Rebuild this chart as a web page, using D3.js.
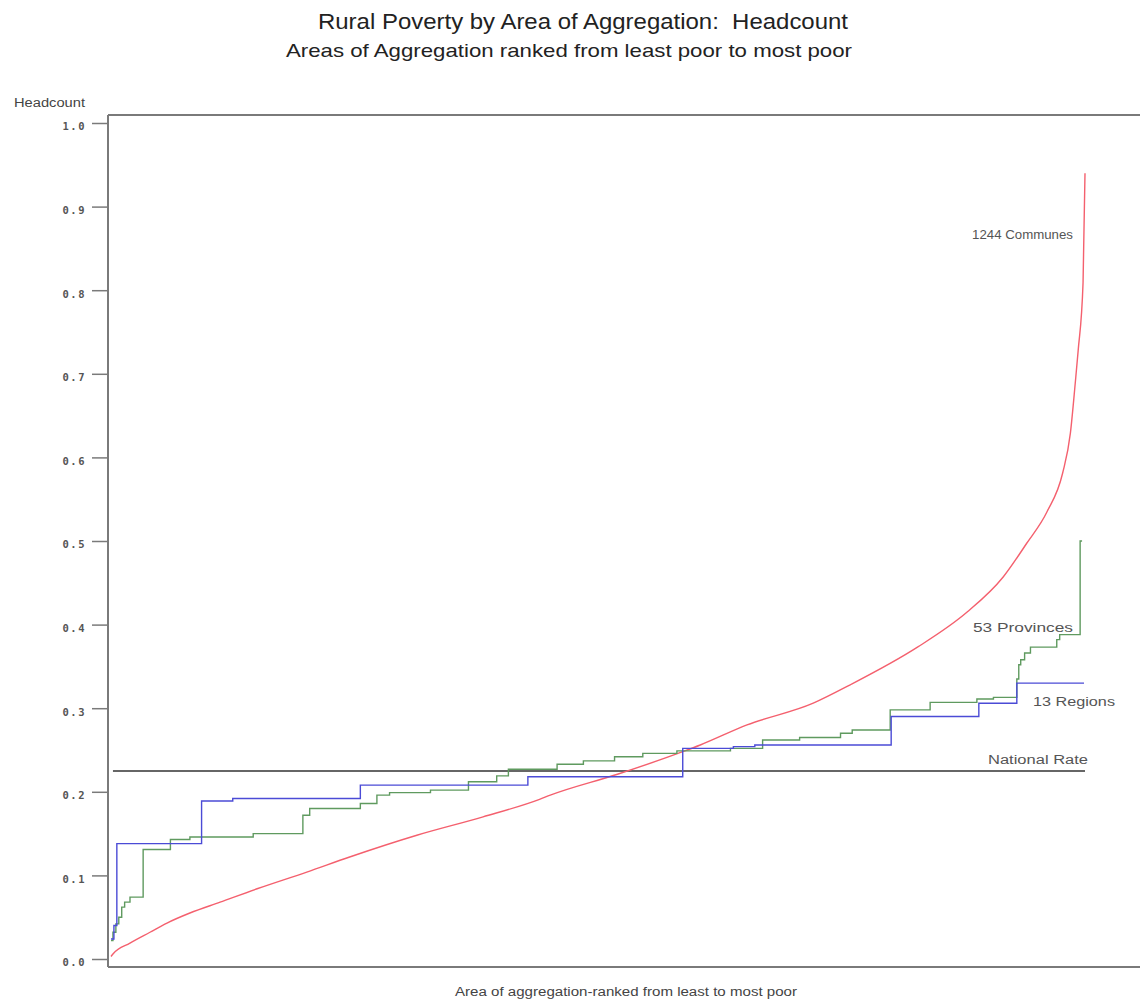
<!DOCTYPE html>
<html>
<head>
<meta charset="utf-8">
<script src="https://cdn.jsdelivr.net/npm/d3@7"></script>
<style>
  html, body { margin: 0; padding: 0; background: #fff; }
  svg { display: block; }
  text { white-space: pre; }
</style>
</head>
<body>
<svg id="chart" width="1140" height="1005"></svg>
<script>
// Areas ranked from least poor to most poor; position = cumulative share of ranked areas.
// 1244 communes (sampled along the ranked curve)
const communeShare = [0, 0.002, 0.0195, 0.040, 0.0575, 0.081, 0.112, 0.150, 0.201, 0.245,
  0.314, 0.382, 0.440, 0.451, 0.520, 0.587, 0.605, 0.653, 0.721, 0.759,
  0.828, 0.879, 0.916, 0.940, 0.961, 0.977, 0.985, 0.990, 0.993, 0.998, 1.0];
const communeHeadcount = [0.003, 0.006, 0.019, 0.032, 0.043, 0.055, 0.068, 0.084, 0.104, 0.122,
  0.148, 0.170, 0.191, 0.196, 0.221, 0.248, 0.256, 0.280, 0.306, 0.328,
  0.373, 0.415, 0.457, 0.497, 0.535, 0.581, 0.629, 0.689, 0.728, 0.809, 0.940];

// 53 provinces: cumulative share at the end of each step, and its headcount
const provinceShareEnd = [0.002, 0.005, 0.008, 0.011, 0.014, 0.0195, 0.033, 0.061, 0.081, 0.146,
  0.197, 0.204, 0.256, 0.273, 0.286, 0.328, 0.367, 0.396, 0.408, 0.458,
  0.485, 0.517, 0.546, 0.581, 0.636, 0.669, 0.707, 0.749, 0.761, 0.800,
  0.841, 0.889, 0.906, 0.930, 0.932, 0.934, 0.938, 0.944, 0.971, 0.974,
  0.995, 0.997];
const provinceHeadcount = [0.022, 0.032, 0.042, 0.050, 0.062, 0.068, 0.074, 0.131, 0.143, 0.146,
  0.150, 0.172, 0.180, 0.186, 0.196, 0.199, 0.202, 0.212, 0.219, 0.227,
  0.233, 0.237, 0.242, 0.246, 0.249, 0.252, 0.262, 0.265, 0.270, 0.274,
  0.298, 0.307, 0.311, 0.313, 0.335, 0.352, 0.358, 0.366, 0.373, 0.382,
  0.388, 0.500];

// 13 regions
const regionShareEnd = [0.003, 0.006, 0.093, 0.125, 0.256, 0.428, 0.587, 0.639, 0.661, 0.801, 0.891, 0.930, 0.999];
const regionHeadcount = [0.024, 0.040, 0.138, 0.189, 0.192, 0.208, 0.218, 0.252, 0.254, 0.256, 0.290, 0.306, 0.330];

const nationalRate = 0.225;
const yTicks = [0, 0.1, 0.2, 0.3, 0.4, 0.5, 0.6, 0.7, 0.8, 0.9, 1.0];

const svg = d3.select("#chart");
const x = d3.scaleLinear().domain([0, 1]).range([111, 1085]);
const y = d3.scaleLinear().domain([0, 1]).range([959, 123]);

const sans = "Liberation Sans, Arial, sans-serif";

// Titles
svg.append("text")
  .attr("x", 583).attr("y", 29)
  .attr("text-anchor", "middle")
  .attr("font-family", sans)
  .attr("font-size", 22)
  .attr("fill", "#222")
  .attr("textLength", 530).attr("lengthAdjust", "spacingAndGlyphs")
  .text("Rural Poverty by Area of Aggregation:  Headcount");
svg.append("text")
  .attr("x", 569).attr("y", 57)
  .attr("text-anchor", "middle")
  .attr("font-family", sans)
  .attr("font-size", 19)
  .attr("fill", "#222")
  .attr("textLength", 566).attr("lengthAdjust", "spacingAndGlyphs")
  .text("Areas of Aggregation ranked from least poor to most poor");

// Frame
const frame = svg.append("g").attr("stroke", "#7a7a7a").attr("stroke-width", 2).attr("fill", "none");
frame.append("line").attr("x1", 108).attr("x2", 1140).attr("y1", 115).attr("y2", 115);
frame.append("line").attr("x1", 108).attr("x2", 1140).attr("y1", 967).attr("y2", 967);
frame.append("line").attr("x1", 108).attr("x2", 108).attr("y1", 115).attr("y2", 967);

// Y axis
const yAxis = svg.append("g")
  .attr("transform", "translate(108,0)")
  .call(d3.axisLeft(y).tickValues(yTicks).tickFormat(d3.format(".1f")).tickSize(16).tickPadding(6));
yAxis.select(".domain").remove();
yAxis.selectAll(".tick line").attr("stroke", "#7a7a7a").attr("stroke-width", 1.5);
yAxis.selectAll(".tick text")
  .attr("font-family", "DejaVu Sans Mono, monospace")
  .attr("font-weight", "bold")
  .attr("font-size", 10.5)
  .attr("letter-spacing", 1.5)
  .attr("fill", "#555")
  .attr("dy", "0.65em");

svg.append("text")
  .attr("x", 14).attr("y", 107)
  .attr("font-family", sans)
  .attr("font-size", 12)
  .attr("fill", "#444")
  .attr("textLength", 71).attr("lengthAdjust", "spacingAndGlyphs")
  .text("Headcount");

svg.append("text")
  .attr("x", 626).attr("y", 996)
  .attr("text-anchor", "middle")
  .attr("font-family", sans)
  .attr("font-size", 12)
  .attr("fill", "#444")
  .attr("textLength", 342).attr("lengthAdjust", "spacingAndGlyphs")
  .text("Area of aggregation-ranked from least to most poor");

// Build step points: each area holds its headcount from the previous end to its own end
function stepPoints(ends, values) {
  const pts = [];
  let start = 0;
  ends.forEach((e, i) => {
    pts.push([start, values[i]]);
    start = e;
  });
  pts.push([start, values[values.length - 1]]);
  return pts;
}

const stepLine = d3.line().x(d => x(d[0])).y(d => y(d[1])).curve(d3.curveStepAfter);
const smoothLine = d3.line().x(d => x(d[0])).y(d => y(d[1])).curve(d3.curveMonotoneX);

// National rate
svg.append("line")
  .attr("x1", x(0.002)).attr("x2", x(1))
  .attr("y1", y(nationalRate)).attr("y2", y(nationalRate))
  .attr("stroke", "#333").attr("stroke-width", 1.5);

// Communes
svg.append("path")
  .datum(communeShare.map((s, i) => [s, communeHeadcount[i]]))
  .attr("d", smoothLine)
  .attr("fill", "none").attr("stroke", "#f4606e").attr("stroke-width", 1.4);

// Provinces
svg.append("path")
  .datum(stepPoints(provinceShareEnd, provinceHeadcount))
  .attr("d", stepLine)
  .attr("fill", "none").attr("stroke", "#5f9a5f").attr("stroke-width", 1.4);

// Regions
svg.append("path")
  .datum(stepPoints(regionShareEnd, regionHeadcount))
  .attr("d", stepLine)
  .attr("fill", "none").attr("stroke", "#4b4bd6").attr("stroke-width", 1.4);

// Series labels
const labels = [
  { text: "1244 Communes", x: 972, y: 239, w: 101 },
  { text: "53 Provinces", x: 973, y: 632, w: 100 },
  { text: "13 Regions", x: 1033, y: 706, w: 82 },
  { text: "National Rate", x: 988, y: 764, w: 100 }
];
svg.append("g").selectAll("text").data(labels).join("text")
  .attr("x", d => d.x).attr("y", d => d.y)
  .attr("font-family", sans)
  .attr("font-size", 12.5)
  .attr("fill", "#555")
  .attr("textLength", d => d.w).attr("lengthAdjust", "spacingAndGlyphs")
  .text(d => d.text);
</script>
</body>
</html>
